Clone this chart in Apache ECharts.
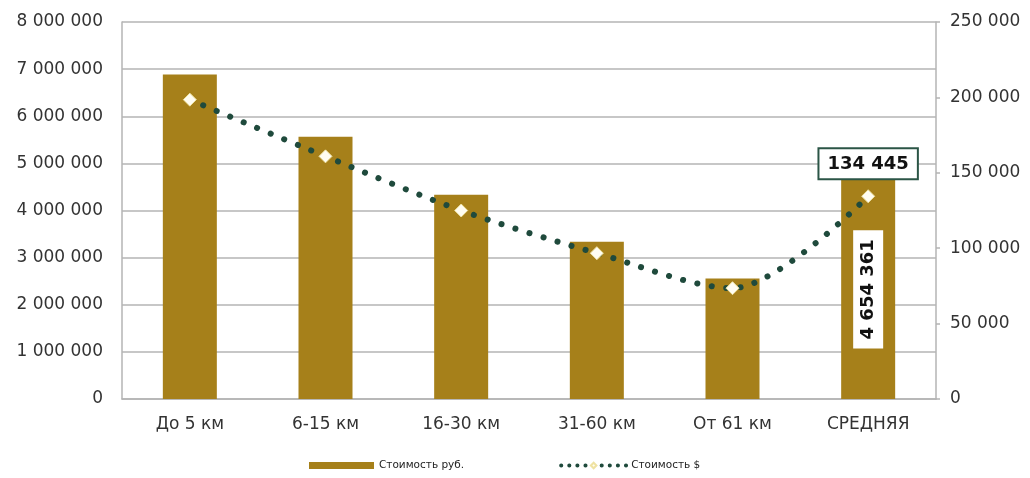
<!DOCTYPE html>
<html>
<head>
<meta charset="utf-8">
<script src="https://cdn.jsdelivr.net/npm/echarts@6/dist/echarts.min.js"></script>
<style>
  html, body { margin: 0; padding: 0; background: #ffffff; }
  #chart { width: 1030px; height: 478px; }
</style>
</head>
<body>
<div id="chart"></div>
<script>
// Distance bands
const categories = ['До 5 км', '6-15 км', '16-30 км', '31-60 км', 'От 61 км', 'СРЕДНЯЯ'];
// Cost in roubles (left axis)
const costRub = [6885000, 5567000, 4335000, 3336000, 2557000, 4654361];
// Cost in dollars (right axis)
const costUsd = [198500, 160900, 125000, 96700, 73500, 134445];

const rubTicks = { min: 0, max: 8000000, interval: 1000000 };
const usdTicks = { min: 0, max: 250000, interval: 50000 };

const seriesNames = ['Стоимость руб.', 'Стоимость $'];

const BAR_COLOR = '#a6801a';
const LINE_COLOR = '#1f4a3c';
const GRID_COLOR = '#b4b4b4';
const FONT = 'DejaVu Sans';
const AXIS_FONT_SIZE = 17;

function spaced(v) {
  return String(Math.round(v)).replace(/\B(?=(\d{3})+(?!\d))/g, ' ');
}

const last = categories.length - 1;

const barData = costRub.map((v, i) => {
  if (i !== last) return v;
  return {
    value: v,
    label: {
      show: true,
      position: 'inside',
      rotate: 90,
      formatter: p => spaced(p.value),
      color: '#111',
      fontFamily: FONT,
      fontWeight: 'bold',
      fontSize: 18,
      backgroundColor: '#ffffff',
      padding: [6, 9, 6, 9]
    }
  };
});

const lineData = costUsd.map((v, i) => {
  if (i !== last) return v;
  return {
    value: v,
    label: {
      show: true,
      position: 'top',
      distance: 11,
      formatter: p => spaced(p.value),
      color: '#111',
      fontFamily: FONT,
      fontWeight: 'bold',
      fontSize: 18,
      backgroundColor: '#ffffff',
      borderColor: '#2b5546',
      borderWidth: 2,
      padding: [6, 8, 5, 8]
    }
  };
});

const chart = echarts.init(document.getElementById('chart'), null, { renderer: 'canvas' });

chart.setOption({
  animation: false,
  backgroundColor: '#ffffff',
  grid: { left: 122, right: 94, top: 22, bottom: 79 },
  legend: {
    bottom: 2,
    left: 304,
    itemGap: 95,
    itemWidth: 65,
    itemHeight: 7,
    textStyle: { fontFamily: FONT, fontSize: 10.5, color: '#222' },
    data: [
      { name: seriesNames[0], icon: 'rect' },
      {
        name: seriesNames[1],
        lineStyle: { color: LINE_COLOR, width: 4, type: [0.1, 8], cap: 'round' }
      }
    ]
  },
  xAxis: {
    type: 'category',
    data: categories,
    axisTick: { show: false },
    axisLine: { show: true, lineStyle: { color: GRID_COLOR, width: 1.5 } },
    axisLabel: { fontFamily: FONT, fontSize: AXIS_FONT_SIZE, color: '#333', margin: 17 }
  },
  yAxis: [
    {
      type: 'value',
      min: rubTicks.min,
      max: rubTicks.max,
      interval: rubTicks.interval,
      axisLine: { show: true, lineStyle: { color: GRID_COLOR, width: 1.5 } },
      axisTick: { show: false },
      splitLine: { show: true, lineStyle: { color: GRID_COLOR, width: 1.5 } },
      axisLabel: { fontFamily: FONT, fontSize: AXIS_FONT_SIZE, color: '#333', margin: 19, formatter: spaced }
    },
    {
      type: 'value',
      min: usdTicks.min,
      max: usdTicks.max,
      interval: usdTicks.interval,
      position: 'right',
      axisLine: { show: true, lineStyle: { color: GRID_COLOR, width: 1.5 } },
      axisTick: { show: true, length: 4, lineStyle: { color: GRID_COLOR, width: 1.5 } },
      splitLine: { show: false },
      axisLabel: { fontFamily: FONT, fontSize: AXIS_FONT_SIZE, color: '#333', margin: 14, formatter: spaced }
    }
  ],
  series: [
    {
      name: seriesNames[0],
      type: 'bar',
      yAxisIndex: 0,
      barWidth: 54,
      itemStyle: { color: BAR_COLOR },
      data: barData,
      z: 2
    },
    {
      name: seriesNames[1],
      type: 'line',
      yAxisIndex: 1,
      smooth: 0.3,
      symbol: 'diamond',
      symbolSize: 13,
      itemStyle: { color: '#fffdf2', borderColor: '#efe2a2', borderWidth: 1 },
      lineStyle: { color: LINE_COLOR, width: 6, type: [0.1, 14.5], cap: 'round' },
      data: lineData,
      z: 3
    }
  ]
});
</script>
</body>
</html>
